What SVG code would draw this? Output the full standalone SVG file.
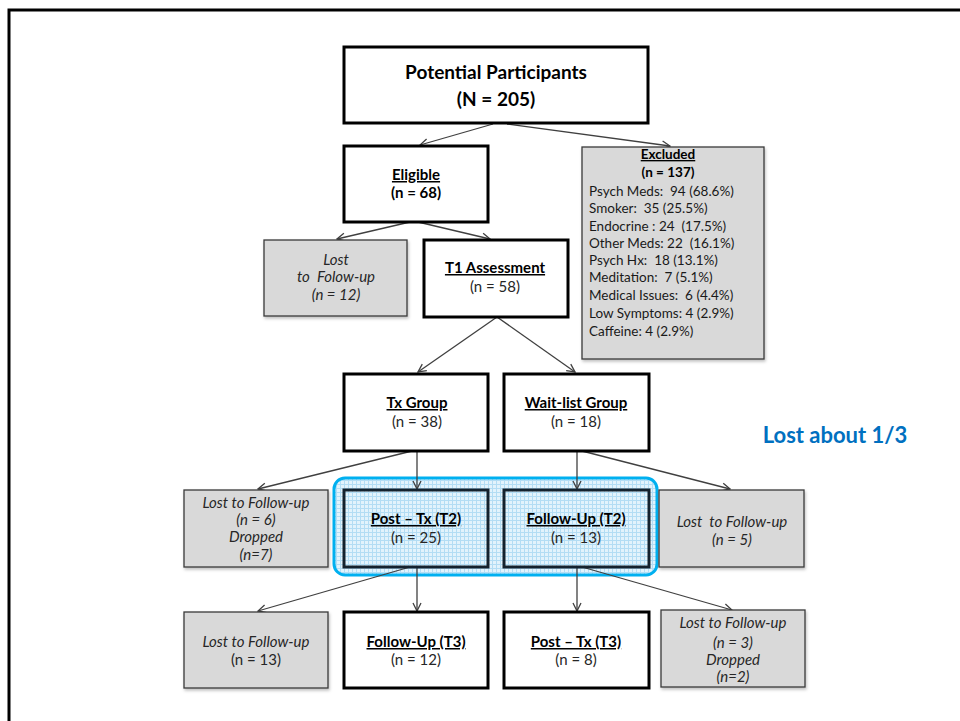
<svg xmlns="http://www.w3.org/2000/svg" width="960" height="721" viewBox="0 0 960 721">
<defs>
<style>
.t{font-family:Lato,"Open Sans","Liberation Sans",sans-serif;font-size:15px;fill:#000;text-anchor:middle}
.b{font-weight:bold}
.u{text-decoration:underline}
.i{font-style:italic;fill:#262626}
.g{fill:#262626}
.big{font-size:19px;font-weight:bold}
.ex{font-family:Lato,"Open Sans","Liberation Sans",sans-serif;font-size:13.5px;fill:#1a1a1a}
.box{fill:#fff;stroke:#000;stroke-width:3}
.gbox{fill:#d9d9d9;stroke:#3a3a3a;stroke-width:1.3;filter:url(#sh)}
.pbox{fill:url(#grid);stroke:#14222e;stroke-width:3}
.c line{stroke:#404040;stroke-width:1.3;marker-end:url(#ah)}
</style>
<marker id="ah" viewBox="0 0 10 10" refX="9" refY="5" markerWidth="10" markerHeight="10" markerUnits="userSpaceOnUse" orient="auto">
<path d="M1,1 L9,5 L1,9" fill="none" stroke="#404040" stroke-width="1.3"/>
</marker>
<pattern id="grid" width="4" height="4" patternUnits="userSpaceOnUse">
<rect width="4" height="4" fill="#e2f3fc"/>
<path d="M0,0.5 H4 M0.5,0 V4" stroke="#b3ddf4" stroke-width="1"/>
</pattern>
<filter id="sh" x="-5%" y="-5%" width="112%" height="115%">
<feDropShadow dx="1" dy="2" stdDeviation="1.5" flood-color="#000" flood-opacity="0.25"/>
</filter>
</defs>
<rect x="9" y="10" width="1000" height="1000" fill="none" stroke="#000" stroke-width="3"/>

<g id="t2group">
<rect x="334" y="478" width="323" height="97" rx="11" fill="url(#grid)" stroke="#00B0F0" stroke-width="3"/>
</g>

<g class="c" id="connectors">
<line x1="493" y1="124" x2="420" y2="145"/>
<line x1="507" y1="124" x2="670" y2="146"/>
<line x1="410" y1="222" x2="337" y2="239"/>
<line x1="418" y1="222" x2="490" y2="239"/>
<line x1="497" y1="317" x2="418" y2="372"/>
<line x1="497" y1="317" x2="575" y2="372"/>
<line x1="412" y1="451" x2="258" y2="489"/>
<line x1="417" y1="451" x2="417" y2="489"/>
<line x1="577" y1="451" x2="577" y2="489"/>
<line x1="582" y1="451" x2="730" y2="489"/>
<line x1="410" y1="567" x2="258" y2="611"/>
<line x1="417" y1="567" x2="417" y2="611"/>
<line x1="577" y1="567" x2="577" y2="611"/>
<line x1="582" y1="567" x2="732" y2="610"/>
</g>

<g id="potential">
<rect class="box" x="344" y="47" width="304" height="76"/>
<text class="t big" x="496" y="79">Potential Participants</text>
<text class="t big" x="496" y="106">(N = 205)</text>
</g>

<g id="eligible">
<rect class="box" x="344" y="146" width="144" height="76"/>
<text class="t b u" x="416" y="180">Eligible</text>
<text class="t b" x="416" y="198">(n = 68)</text>
</g>

<g id="excluded">
<rect class="gbox" x="582" y="147" width="182" height="212"/>
<text class="t b u" x="668" y="159" style="font-size:13.5px">Excluded</text>
<text class="t b" x="668" y="177" style="font-size:13.5px">(n = 137)</text>
<text class="ex" x="589" y="196" xml:space="preserve">Psych Meds:  94 (68.6%)</text>
<text class="ex" x="589" y="213" xml:space="preserve">Smoker:  35 (25.5%)</text>
<text class="ex" x="589" y="231" xml:space="preserve">Endocrine : 24  (17.5%)</text>
<text class="ex" x="589" y="248" xml:space="preserve">Other Meds: 22  (16.1%)</text>
<text class="ex" x="589" y="265" xml:space="preserve">Psych Hx:  18 (13.1%)</text>
<text class="ex" x="589" y="282" xml:space="preserve">Meditation:  7 (5.1%)</text>
<text class="ex" x="589" y="300" xml:space="preserve">Medical Issues:  6 (4.4%)</text>
<text class="ex" x="589" y="318">Low Symptoms: 4 (2.9%)</text>
<text class="ex" x="589" y="336">Caffeine: 4 (2.9%)</text>
</g>

<g id="lost1">
<rect class="gbox" x="264" y="240" width="143" height="76"/>
<text class="t i" x="336" y="265">Lost</text>
<text class="t i" x="336" y="282" xml:space="preserve">to  Folow-up</text>
<text class="t i" x="336" y="300">(n = 12)</text>
</g>

<g id="t1">
<rect class="box" x="424" y="240" width="144" height="77"/>
<text class="t b u" x="495" y="273">T1 Assessment</text>
<text class="t g" x="495" y="292">(n = 58)</text>
</g>

<g id="txgroup">
<rect class="box" x="344" y="374" width="144" height="77"/>
<text class="t b u" x="417" y="408">Tx Group</text>
<text class="t g" x="417" y="427">(n = 38)</text>
</g>

<g id="waitlist">
<rect class="box" x="504" y="374" width="145" height="77"/>
<text class="t b u" x="576" y="408">Wait-list Group</text>
<text class="t g" x="576" y="427">(n = 18)</text>
</g>

<text x="835" y="443" style="font-family:Lato,'Open Sans','Liberation Sans',sans-serif;font-size:22px;font-weight:bold;fill:#0070C0;text-anchor:middle">Lost about 1/3</text>

<g id="lost2">
<rect class="gbox" x="184" y="490" width="144" height="77"/>
<text class="t i" x="256" y="508">Lost to Follow-up</text>
<text class="t i" x="256" y="525">(n = 6)</text>
<text class="t i" x="256" y="542">Dropped</text>
<text class="t i" x="256" y="560">(n=7)</text>
</g>

<g id="posttx2">
<rect class="pbox" x="344" y="490" width="144" height="77"/>
<text class="t b u" x="416" y="524">Post – Tx (T2)</text>
<text class="t g" x="416" y="543">(n = 25)</text>
</g>

<g id="followup2">
<rect class="pbox" x="504" y="490" width="145" height="77"/>
<text class="t b u" x="576" y="524">Follow-Up (T2)</text>
<text class="t g" x="576" y="543">(n = 13)</text>
</g>

<g id="lost3">
<rect class="gbox" x="659" y="490" width="145" height="77"/>
<text class="t i" x="732" y="527" xml:space="preserve">Lost  to Follow-up</text>
<text class="t i" x="732" y="545">(n = 5)</text>
</g>

<g id="lost4">
<rect class="gbox" x="184" y="612" width="144" height="76"/>
<text class="t i" x="256" y="647">Lost to Follow-up</text>
<text class="t g" x="256" y="665">(n = 13)</text>
</g>

<g id="followup3">
<rect class="box" x="344" y="612" width="144" height="76"/>
<text class="t b u" x="416" y="647">Follow-Up (T3)</text>
<text class="t g" x="416" y="665">(n = 12)</text>
</g>

<g id="posttx3">
<rect class="box" x="504" y="612" width="145" height="76"/>
<text class="t b u" x="576" y="647">Post – Tx (T3)</text>
<text class="t g" x="576" y="665">(n = 8)</text>
</g>

<g id="lost5">
<rect class="gbox" x="661" y="610" width="144" height="77"/>
<text class="t i" x="733" y="628">Lost to Follow-up</text>
<text class="t i" x="733" y="648">(n = 3)</text>
<text class="t i" x="733" y="665">Dropped</text>
<text class="t i" x="733" y="682">(n=2)</text>
</g>
</svg>
